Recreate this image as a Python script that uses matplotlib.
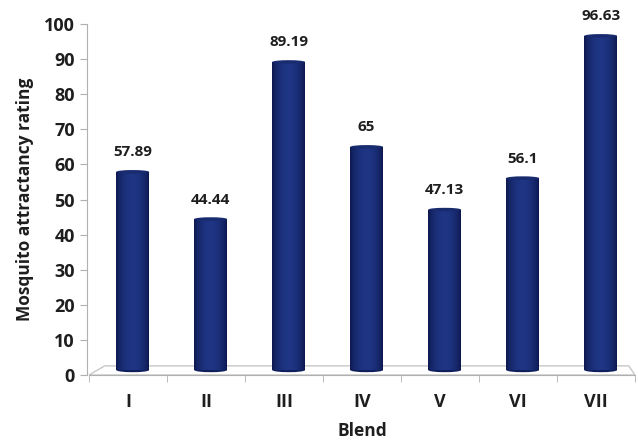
import matplotlib.pyplot as plt
import numpy as np
from matplotlib.patches import Polygon, Ellipse

plt.rcParams['font.family'] = ['Open Sans', 'DejaVu Sans']

blends = ['I', 'II', 'III', 'IV', 'V', 'VI', 'VII']
ratings = [57.89, 44.44, 89.19, 65, 47.13, 56.1, 96.63]
rating_labels = ['57.89', '44.44', '89.19', '65', '47.13', '56.1', '96.63']

fig = plt.figure(figsize=(6.38, 4.43), dpi=100)
ax = fig.add_axes([89 / 638, 68 / 443, 546 / 638, 351 / 443])

x = np.arange(len(blends))
shift = 0.06      # bars sit a little back on the floor
width = 0.42
base = 1.4

# floor of the plot area
depth_x, depth_y = 0.2, 2.6
floor = Polygon([[-0.5, 0], [6.5, 0], [6.5 - 0.08, depth_y], [-0.5 + depth_x, depth_y]],
                closed=True, facecolor='white', edgecolor='#c8c8c8', lw=1.0,
                clip_on=False, zorder=1)
ax.add_patch(floor)

# horizontal shading for a cylinder look
shade = np.linspace(0, 1, 64)
prof = np.sin(np.pi * shade) ** 0.7
c_edge = np.array([0.05, 0.09, 0.30])
c_mid = np.array([0.12, 0.21, 0.52])
grad = c_edge[None, :] + (c_mid - c_edge)[None, :] * prof[:, None]
grad = grad[None, :, :]

bars = ax.bar(x + shift, np.array(ratings) - base, bottom=base, width=width,
              color='#13266b', edgecolor='none', zorder=3)
for b, v in zip(bars, ratings):
    x0 = b.get_x()
    im = ax.imshow(grad, extent=[x0, x0 + width, base, v], aspect='auto',
                   origin='lower', zorder=3.1, interpolation='bilinear')
    im.set_clip_path(b)
    cap = Ellipse((x0 + width / 2, v), width, 1.0, facecolor='#172b6e',
                  edgecolor='none', zorder=3.2)
    ax.add_patch(cap)
    bot = Ellipse((x0 + width / 2, base), width, 1.2, facecolor='#0f1f5c',
                  edgecolor='none', zorder=2.9)
    ax.add_patch(bot)

for xi, v, lab in zip(x, ratings, rating_labels):
    ax.annotate(lab, (xi + shift, v), xytext=(0, 9), textcoords='offset points',
                ha='center', va='bottom', fontsize=11, fontweight='bold',
                color='#1e1e1e')

ax.set_xlim(-0.5, 6.5)
ax.set_ylim(0, 100)
ax.set_yticks(np.arange(0, 101, 10))
ax.set_xticks(x)
ax.set_xticklabels(blends)
ax.set_xticks(np.arange(-0.5, 7, 1), minor=True)

for s in ['top', 'right']:
    ax.spines[s].set_visible(False)
ax.spines['left'].set_color('#b0b0b0')
ax.spines['bottom'].set_color('#b0b0b0')
ax.spines['left'].set_position(('data', -0.52))

ax.tick_params(axis='y', direction='out', length=5, color='#b0b0b0',
               labelsize=13, pad=4)
ax.tick_params(axis='x', which='major', length=0, labelsize=13, pad=13)
ax.tick_params(axis='x', which='minor', direction='out', length=5, color='#b0b0b0')
for t in ax.get_yticklabels() + ax.get_xticklabels():
    t.set_fontweight('bold')
    t.set_color('#1e1e1e')

ax.set_ylabel('Mosquito attractancy rating', fontsize=12.5, fontweight='bold',
              color='#1e1e1e', labelpad=7)
ax.set_xlabel('Blend', fontsize=12.5, fontweight='bold', color='#1e1e1e', labelpad=8)

fig.savefig('out.png', dpi=100)
